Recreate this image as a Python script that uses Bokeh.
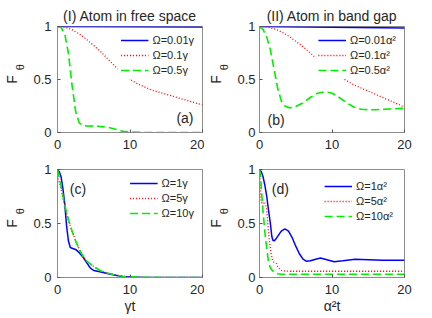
import math
from bokeh.plotting import figure
from bokeh.layouts import column, row
from bokeh.models import Legend, LegendItem, FixedTicker, Range1d, Label, LinearAxis
from bokeh.embed import file_html
from bokeh.resources import INLINE

FONT = "Liberation Sans"

# ---------------- data ----------------
# (a) atom in free space, small Omega
ta_blue = [0, 10, 20]
Fa_blue = [1.0, 0.997, 0.995]
ta_red = [0, 1, 2, 3, 4, 5, 6, 7, 8, 9, 10, 11, 12, 13, 14, 15, 16, 17, 18, 19, 20]
Fa_red = [1.0, 0.995, 0.97, 0.93, 0.88, 0.82, 0.76, 0.69, 0.62, 0.56, 0.50,
          0.46, 0.43, 0.40, 0.38, 0.36, 0.34, 0.32, 0.30, 0.28, 0.26]
ta_green = [0, 0.5, 1, 1.5, 2, 2.5, 3, 3.5, 4, 5, 6, 7, 8, 9, 10, 12, 20]
Fa_green = [1.0, 0.99, 0.93, 0.75, 0.45, 0.20, 0.09, 0.065, 0.062, 0.06, 0.056,
            0.048, 0.03, 0.012, 0.004, 0.0, 0.0]

# (b) atom in band gap, small Omega
tb_blue = [0, 10, 20]
Fb_blue = [1.0, 0.993, 0.985]
tb_red = [0, 1, 2, 3, 4, 5, 6, 7, 8, 9, 10, 11, 12, 13, 14, 15, 16, 17, 18, 19, 20]
Fb_red = [1.0, 0.995, 0.98, 0.95, 0.91, 0.86, 0.81, 0.75, 0.69, 0.63, 0.58,
          0.53, 0.49, 0.45, 0.42, 0.39, 0.36, 0.33, 0.30, 0.27, 0.24]
tb_green = [0, 0.5, 1, 1.5, 2, 2.5, 3, 3.5, 4, 4.5, 5, 6, 7, 8, 9, 10, 11, 12,
            13, 14, 15, 16, 17, 18, 19, 20]
Fb_green = [1.0, 0.97, 0.90, 0.78, 0.60, 0.42, 0.30, 0.25, 0.235, 0.235, 0.245,
            0.28, 0.33, 0.37, 0.385, 0.37, 0.33, 0.28, 0.24, 0.22, 0.215, 0.215,
            0.218, 0.222, 0.225, 0.228]

# (c) atom in free space, large Omega
tc_blue = [0, 0.25, 0.5, 0.75, 1, 1.25, 1.5, 1.75, 2, 2.5, 3, 3.5, 4, 4.5, 5,
           6, 7, 8, 9, 10, 12, 20]
Fc_blue = [1.0, 0.98, 0.93, 0.82, 0.68, 0.48, 0.34, 0.28, 0.27, 0.26, 0.23,
           0.19, 0.14, 0.09, 0.065, 0.05, 0.035, 0.02, 0.01, 0.005, 0.0, 0.0]
tc_red = [0, 0.1, 0.25, 0.5, 1, 1.5, 2, 2.5, 3, 3.5, 4, 5, 6, 7, 8, 9, 10, 12, 15, 20]
Fc_red = [1.0, 0.90, 0.88, 0.82, 0.66, 0.53, 0.43, 0.34, 0.26, 0.20, 0.155,
          0.10, 0.06, 0.04, 0.022, 0.012, 0.007, 0.002, 0.0, 0.0]
tc_green = [0, 0.1, 0.25, 0.5, 1, 1.5, 2, 2.5, 3, 3.5, 4, 5, 6, 7, 8, 9, 10, 12, 15, 20]
Fc_green = [1.0, 0.97, 0.92, 0.84, 0.67, 0.54, 0.43, 0.34, 0.26, 0.20, 0.155,
            0.10, 0.06, 0.04, 0.022, 0.012, 0.007, 0.002, 0.0, 0.0]

# (d) atom in band gap, large Omega
td_blue = [0, 0.25, 0.5, 0.75, 1, 1.25, 1.5, 1.7, 1.85, 2.0, 2.2, 2.6, 3.0, 3.5,
           4.0, 4.5, 5.0, 5.5, 6.0, 6.5, 7.0, 7.5, 8.4, 9.3, 10.3, 11.5, 13.2,
           15, 17, 20]
Fd_blue = [1.0, 0.98, 0.93, 0.85, 0.75, 0.62, 0.50, 0.38, 0.345, 0.34, 0.35,
           0.39, 0.43, 0.45, 0.43, 0.37, 0.29, 0.22, 0.17, 0.15, 0.155, 0.165,
           0.18, 0.165, 0.145, 0.155, 0.17, 0.165, 0.16, 0.16]
td_red = [0, 0.1, 0.2, 0.3, 0.5, 0.7, 0.9, 1.0, 1.2, 1.4, 1.6, 1.8, 2.0, 2.3,
          2.6, 3.0, 3.5, 4, 20]
Fd_red = [1.0, 0.85, 0.72, 0.68, 0.69, 0.70, 0.66, 0.62, 0.45, 0.32, 0.22,
          0.16, 0.14, 0.13, 0.09, 0.065, 0.06, 0.058, 0.058]
td_green = [0, 0.15, 0.3, 0.5, 0.8, 1.0, 1.25, 1.5, 1.7, 2.0, 2.5, 3, 20]
Fd_green = [1.0, 0.93, 0.78, 0.60, 0.38, 0.27, 0.14, 0.09, 0.07, 0.05, 0.035,
            0.03, 0.03]

labels_a = ["Ω=0.01γ", "Ω=0.1γ", "Ω=0.5γ"]
labels_b = ["Ω=0.01α²", "Ω=0.1α²", "Ω=0.5α²"]
labels_c = ["Ω=1γ", "Ω=5γ", "Ω=10γ"]
labels_d = ["Ω=1α²", "Ω=5α²", "Ω=10α²"]

x_ticks = [0, 10, 20]
y_ticks = [0, 0.5, 1]
y_tick_labels = {0: "0", 0.5: "0.5", 1: "1"}

AXC = "#8c8c8c"
TXT = "#262626"
NB = "\u00a0"


def panel(series, labels, tag, tag_xy, title=None, xlabel=None,
          bl=56, br=2, bt=26, bb=23, fh=106, leg_margin=5, ystand=6):
    p = figure(frame_width=145, frame_height=fh,
               x_range=Range1d(0, 20), y_range=Range1d(0, 1),
               output_backend="svg", toolbar_location=None,
               min_border_left=bl, min_border_right=br,
               min_border_top=bt, min_border_bottom=bb)
    p.background_fill_color = "white"
    p.border_fill_color = "white"
    p.outline_line_color = AXC
    p.xgrid.visible = False
    p.ygrid.visible = False
    if title:
        p.title.text = title
        p.title.align = "center"
        p.title.text_font = FONT
        p.title.text_font_size = "14px"
        p.title.text_font_style = "normal"
        p.title.text_color = TXT
        p.title.standoff = 5
    p.xaxis.ticker = FixedTicker(ticks=x_ticks)
    p.yaxis.ticker = FixedTicker(ticks=y_ticks)
    p.yaxis.major_label_overrides = y_tick_labels
    for ax in p.axis:
        ax.axis_line_color = AXC
        ax.major_tick_line_color = "#555555"
        ax.major_tick_in = 3
        ax.major_tick_out = 0
        ax.minor_tick_line_color = None
        ax.major_label_text_font = FONT
        ax.major_label_text_font_size = "13px"
        ax.major_label_text_color = TXT
    p.xaxis.major_label_standoff = 7
    p.yaxis.major_label_standoff = ystand
    if xlabel:
        p.xaxis.axis_label = xlabel
        p.xaxis.axis_label_text_font = FONT
        p.xaxis.axis_label_text_font_size = "14px"
        p.xaxis.axis_label_text_font_style = "normal"
        p.xaxis.axis_label_standoff = 1
        p.xaxis.axis_label_text_color = TXT

    # y-axis label: F with subscript theta (theta next to tick labels, F outside)
    p.yaxis.axis_label = NB * 8 + "θ"
    p.yaxis.axis_label_text_font = FONT
    p.yaxis.axis_label_text_font_size = "11px"
    p.yaxis.axis_label_text_font_style = "normal"
    p.yaxis.axis_label_text_color = TXT
    p.yaxis.axis_label_standoff = 4
    fax = LinearAxis(ticker=FixedTicker(ticks=[]), axis_label="F",
                     axis_line_color=None, major_tick_line_color=None,
                     minor_tick_line_color=None,
                     axis_label_text_font=FONT, axis_label_text_font_size="14px",
                     axis_label_text_font_style="normal",
                     axis_label_text_color=TXT, axis_label_standoff=-8)
    p.add_layout(fax, "left")

    styles = [dict(color="#0000ff", line_width=1.5, line_dash="solid"),
              dict(color="#ff0000", line_width=1.3, line_dash="1 2"),
              dict(color="#00ee00", line_width=1.6, line_dash="8 4")]
    items = []
    for (tt, ff), st, lab in zip(series, styles, labels):
        r = p.line(tt, ff, line_color=st["color"], line_width=st["line_width"],
                   line_dash=st["line_dash"])
        items.append(LegendItem(label=lab, renderers=[r]))
    leg = Legend(items=items, location="top_right")
    leg.label_text_font = FONT
    leg.label_text_font_size = "11px"
    leg.label_text_color = TXT
    leg.glyph_width = 28
    leg.glyph_height = 12
    leg.label_height = 12
    leg.label_standoff = 4
    leg.spacing = 3
    leg.padding = 3
    leg.margin = leg_margin
    leg.border_line_alpha = 0
    leg.background_fill_alpha = 1
    p.add_layout(leg)

    p.add_layout(Label(x=tag_xy[0], y=tag_xy[1], text=tag, text_font=FONT,
                       text_font_size="14px", text_align="left",
                       text_baseline="middle", text_color=TXT))
    return p


pa = panel([(ta_blue, Fa_blue), (ta_red, Fa_red), (ta_green, Fa_green)], labels_a,
           "(a)", (16.4, 0.14), title="(I) Atom in free space",
           bl=56, br=2, bt=26, bb=23)
pb = panel([(tb_blue, Fb_blue), (tb_red, Fb_red), (tb_green, Fb_green)], labels_b,
           "(b)", (1.1, 0.12), title="(II) Atom in band gap",
           bl=49, br=33, bt=26, bb=23, ystand=4)
pc = panel([(tc_blue, Fc_blue), (tc_red, Fc_red), (tc_green, Fc_green)], labels_c,
           "(c)", (1.7, 0.82), xlabel="γt",
           bl=56, br=2, bt=14, bb=39, fh=108)
pd = panel([(td_blue, Fd_blue), (td_red, Fd_red), (td_green, Fd_green)], labels_d,
           "(d)", (1.7, 0.82), xlabel="α²t",
           bl=49, br=33, bt=14, bb=39, fh=108, leg_margin=8, ystand=4)

layout = column(row(pa, pb, spacing=0), row(pc, pd, spacing=0), spacing=0)

open("out.html", "w").write(file_html(layout, INLINE))
